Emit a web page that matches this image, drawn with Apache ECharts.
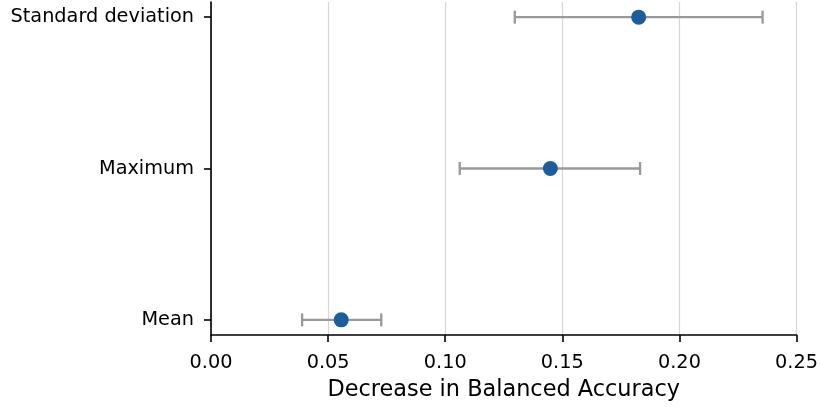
<!DOCTYPE html>
<html>
<head>
<meta charset="utf-8">
<script src="https://cdn.jsdelivr.net/npm/echarts@6/dist/echarts.min.js"></script>
<style>
  html, body { margin: 0; padding: 0; background: #fff; }
  #chart { width: 821px; height: 407px; }
</style>
</head>
<body>
<div id="chart"></div>
<script>
// categories bottom -> top
const categories = ['Mean', 'Maximum', 'Standard deviation'];
const meanValues = [0.0556, 0.1449, 0.1826];
const lowerValues = [0.0389, 0.1062, 0.1297];
const upperValues = [0.0727, 0.1832, 0.2355];
const xTicks = [0, 0.05, 0.10, 0.15, 0.20, 0.25];

const errorData = categories.map((c, i) => [i, lowerValues[i], upperValues[i]]);
const pointData = categories.map((c, i) => [meanValues[i], i]);

const chart = echarts.init(document.getElementById('chart'));
const font = 'DejaVu Sans';

chart.setOption({
  animation: false,
  grid: { left: 211, right: 23, top: 2, bottom: 72, containLabel: false },
  xAxis: {
    type: 'value',
    min: xTicks[0],
    max: xTicks[xTicks.length - 1],
    interval: 0.05,
    name: 'Decrease in Balanced Accuracy',
    nameLocation: 'middle',
    nameGap: 44,
    nameTextStyle: { fontFamily: font, fontSize: 22.4, color: '#000' },
    axisLine: { show: true, onZero: false, lineStyle: { color: '#000', width: 1.6 } },
    axisTick: { show: true, length: 7, lineStyle: { color: '#000', width: 1.6 } },
    axisLabel: {
      margin: 18,
      fontFamily: font, fontSize: 19.3, color: '#000',
      formatter: v => v.toFixed(2)
    },
    splitLine: { show: true, lineStyle: { color: '#d6d6d6', width: 1.2 } }
  },
  yAxis: {
    type: 'value',
    min: -0.1,
    max: 2.1,
    axisLine: { show: true, onZero: false, lineStyle: { color: '#000', width: 1.6 } },
    axisTick: { show: true, length: 7, customValues: [0, 1, 2], lineStyle: { color: '#000', width: 1.6 } },
    axisLabel: {
      margin: 17,
      customValues: [0, 1, 2],
      fontFamily: font, fontSize: 19.3, color: '#000',
      formatter: v => categories[Math.round(v)]
    },
    splitLine: { show: false }
  },
  series: [
    {
      type: 'custom',
      data: errorData,
      z: 2,
      renderItem: function (params, api) {
        const y = api.value(0);
        const lo = api.coord([api.value(1), y]);
        const hi = api.coord([api.value(2), y]);
        const h = 6.5;
        const style = { stroke: '#999999', lineWidth: 2.3, fill: null };
        return {
          type: 'group',
          children: [
            { type: 'line', shape: { x1: lo[0], y1: lo[1], x2: hi[0], y2: hi[1] }, style: style },
            { type: 'line', shape: { x1: lo[0], y1: lo[1] - h, x2: lo[0], y2: lo[1] + h }, style: style },
            { type: 'line', shape: { x1: hi[0], y1: hi[1] - h, x2: hi[0], y2: hi[1] + h }, style: style }
          ]
        };
      }
    },
    {
      type: 'scatter',
      data: pointData,
      z: 3,
      symbol: 'circle',
      symbolSize: 15,
      itemStyle: { color: '#1c5d9c', opacity: 1 }
    }
  ]
});
</script>
</body>
</html>
